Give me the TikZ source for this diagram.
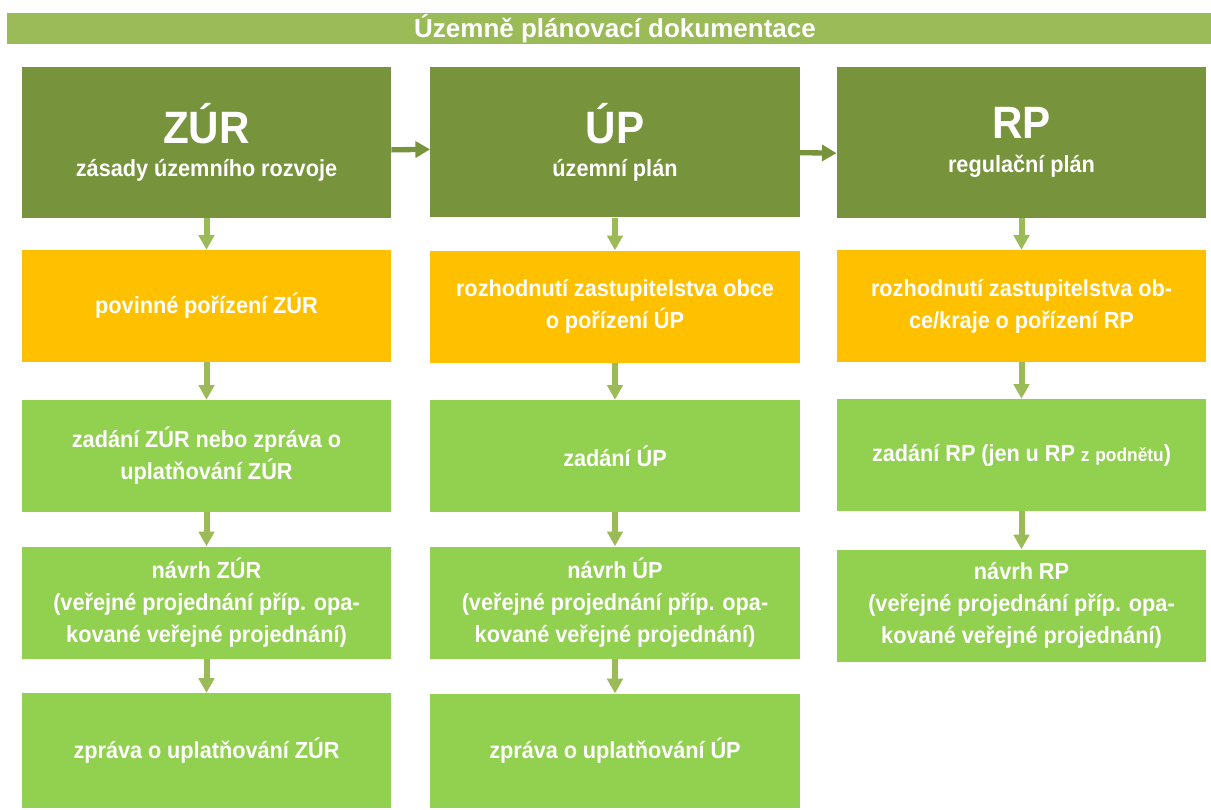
\documentclass[tikz,border=0pt]{standalone}
\usepackage{fontspec}
\setmainfont[FakeStretch=0.93]{Liberation Sans}
\newfontfamily\bannerfont{Liberation Sans}
\usetikzlibrary{arrows.meta}
\definecolor{bannergreen}{HTML}{9BBB59}
\definecolor{darkgreen}{HTML}{77933C}
\definecolor{orangebox}{HTML}{FFC000}
\definecolor{lightgreen}{HTML}{92D050}
\newcommand\boxfont{\bfseries\fontsize{17.5}{24}\selectfont\spaceskip=0.25em\relax}

\begin{document}
\begin{tikzpicture}[x=0.75pt,y=-0.75pt,
   box/.style={fill=#1,text=white,align=center,inner sep=0pt,
     font=\boxfont,minimum width=277pt},
   headbox/.style={box=darkgreen,minimum height=113pt},
   initbox/.style={box=orangebox,minimum height=84pt},
   workbox/.style={box=lightgreen,minimum height=84pt},
   down/.style={bannergreen,line width=4.5pt,
     -{Triangle[width=11.5pt,length=11pt]}},
   across/.style={darkgreen,line width=4pt,
     -{Triangle[width=12pt,length=11pt]}}]
 \useasboundingbox (0,0) rectangle (1211,810);

 % banner
 \node[fill=bannergreen,minimum width=903pt,minimum height=23pt,inner sep=0pt]
   (banner) at (609,28.5) {};
 \node[text=white,inner sep=0pt,font=\bannerfont\bfseries\fontsize{19.5}{22}\selectfont]
   (title) at (615,28.5) {Územně plánovací dokumentace};

 % column ZUR
 \node[headbox] (zur) at (206.5,142.5)
   {{\fontsize{34}{40}\selectfont ZÚR}\\[1pt] zásady územního rozvoje};
 \node[initbox] (zurA) at (206.5,306) {povinné pořízení ZÚR};
 \node[workbox] (zurB) at (206.5,456) {zadání ZÚR nebo zpráva o\\uplatňování ZÚR};
 \node[workbox] (zurC) at (206.5,602.5)
   {návrh ZÚR\\(veřejné projednání příp. opa-\\kované veřejné projednání)};
 \node[workbox,minimum height=86pt] (zurD) at (206.5,750.5) {zpráva o uplatňování ZÚR};

 % column UP
 \node[headbox] (up) at (615,142) {{\fontsize{34}{40}\selectfont ÚP}\\[1pt] územní plán};
 \node[initbox] (upA) at (615,306.5) {rozhodnutí zastupitelstva obce\\o pořízení ÚP};
 \node[workbox] (upB) at (615,456) {zadání ÚP};
 \node[workbox] (upC) at (615,602.5)
   {návrh ÚP\\(veřejné projednání příp. opa-\\kované veřejné projednání)};
 \node[workbox,minimum height=86pt] (upD) at (615,751) {zpráva o uplatňování ÚP};

 % column RP
 \node[headbox] (rp) at (1021.5,142.5) {{\fontsize{34}{40}\selectfont RP}\\[1pt] regulační plán};
 \node[initbox] (rpA) at (1021.5,306) {rozhodnutí zastupitelstva ob-\\ce/kraje o pořízení RP};
 \node[workbox] (rpB) at (1021.5,455)
   {zadání RP (jen u RP {\fontsize{14}{16}\selectfont z podnětu})};
 \node[workbox] (rpC) at (1021.5,605.5)
   {návrh RP\\(veřejné projednání příp. opa-\\kované veřejné projednání)};

 \foreach \from/\to in {zur/zurA,zurA/zurB,zurB/zurC,zurC/zurD,
   up/upA,upA/upB,upB/upC,upC/upD,rp/rpA,rpA/rpB,rpB/rpC}
   \draw[down] (\from) -- (\to);

 \draw[across] ([yshift=-5.5pt]zur.east) -- ([yshift=-5.5pt]up.west);
 \draw[across] ([yshift=-8pt]up.east) -- ([yshift=-8pt]rp.west);
\end{tikzpicture}
\end{document}
